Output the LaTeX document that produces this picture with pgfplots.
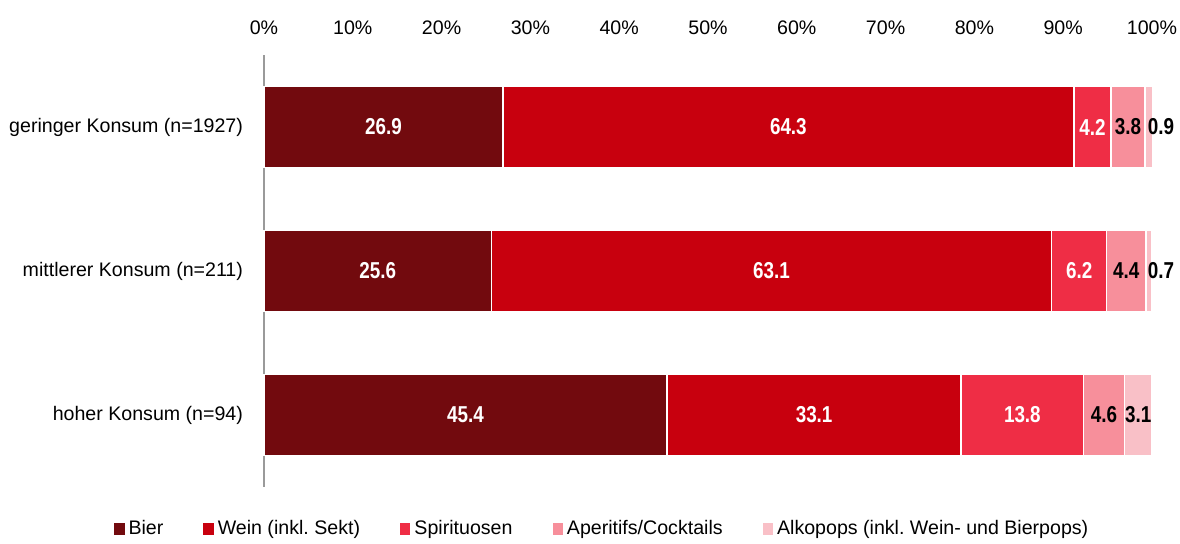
\documentclass[border=0pt]{standalone}
\usepackage{pgfplots}
\pgfplotsset{compat=1.18}
\usepackage{fontspec}
\setmainfont{Liberation Sans}
\usepackage{graphicx}
\frenchspacing
\definecolor{cBier}{HTML}{720A0E}
\definecolor{cWein}{HTML}{C8000E}
\definecolor{cSpir}{HTML}{EF2D45}
\definecolor{cAper}{HTML}{F78F9B}
\definecolor{cAlko}{HTML}{F9C0C7}
\definecolor{axgray}{HTML}{9A9A9A}
\begin{document}
\frenchspacing
\begin{tikzpicture}
\pgfplotsset{
  common/.style={
    scale only axis, width=444pt, height=216pt,
    xmin=0, xmax=100, ymin=-0.5, ymax=2.5, y dir=reverse,
    clip=false,
  }
}
\begin{axis}[common, name=a,
  xbar stacked, bar width=0.5656,
  axis x line*=top, axis y line*=left,
  x axis line style={draw=none},
  y axis line style={draw=axgray, line width=0.75pt, -},
  xtick={0,10,...,100},
  xticklabels={0\%,10\%,20\%,30\%,40\%,50\%,60\%,70\%,80\%,90\%,100\%},
  ytick={0,1,2},
  yticklabels={geringer Konsum (n=1927), mittlerer Konsum (n=211), hoher Konsum (n=94)},
  major tick length=0pt, tick style={draw=none},
  ticklabel style={font=\fontsize{9.8}{11.8}\selectfont},
  xticklabel style={yshift=6.5pt},
  yticklabel style={xshift=-7pt},
  legend style={at={(0.382,-0.097)}, anchor=center, draw=none, fill=none,
    legend columns=-1, font=\fontsize{9.8}{11.8}\selectfont\frenchspacing,
    /tikz/every even column/.append style={column sep=18pt},
    /tikz/every odd column/.append style={column sep=0pt}},
  legend image code/.code={\fill[#1, draw=none] (0pt,-2.8pt) rectangle (5.2pt,2.8pt);},
]
\addplot[fill=cBier, draw=white, line width=0.75pt] coordinates {(26.9,0) (25.6,1) (45.4,2)};
\addplot[fill=cWein, draw=white, line width=0.75pt] coordinates {(64.3,0) (63.1,1) (33.1,2)};
\addplot[fill=cSpir, draw=white, line width=0.75pt] coordinates {(4.2,0) (6.2,1) (13.8,2)};
\addplot[fill=cAper, draw=white, line width=0.75pt] coordinates {(3.8,0) (4.4,1) (4.6,2)};
\addplot[fill=cAlko, draw=white, line width=0.75pt] coordinates {(0.9,0) (0.7,1) (3.1,2)};
\legend{Bier, Wein (inkl. Sekt), Spirituosen, Aperitifs/Cocktails, Alkopops (inkl. Wein- und Bierpops)}
\end{axis}
\begin{axis}[common, hide axis,
  point meta=explicit symbolic,
  nodes near coords={\scalebox{0.82}[1]{\pgfplotspointmeta}},
  every node near coord/.append style={anchor=center, inner sep=0pt, font=\fontsize{11.5}{12}\selectfont\bfseries},
]
\addplot[draw=none, mark=none, nodes near coords style={text=white}] coordinates {
  (13.45,0) [26.9] (59.05,0) [64.3] (93.3,0) [4.2]
  (12.8,1) [25.6] (57.15,1) [63.1] (91.8,1) [6.2]
  (22.7,2) [45.4] (61.95,2) [33.1] (85.4,2) [13.8]
};
\addplot[draw=none, mark=none, nodes near coords style={text=black}] coordinates {
  (97.3,0) [3.8] (101.0,0) [0.9]
  (97.1,1) [4.4] (101.0,1) [0.7]
  (94.6,2) [4.6] (98.45,2) [3.1]
};
\end{axis}
\pgfresetboundingbox
\path ([xshift=-132pt,yshift=-28.5pt]a.south west) rectangle ([xshift=14pt,yshift=27.5pt]a.north east);
\end{tikzpicture}
\end{document}
